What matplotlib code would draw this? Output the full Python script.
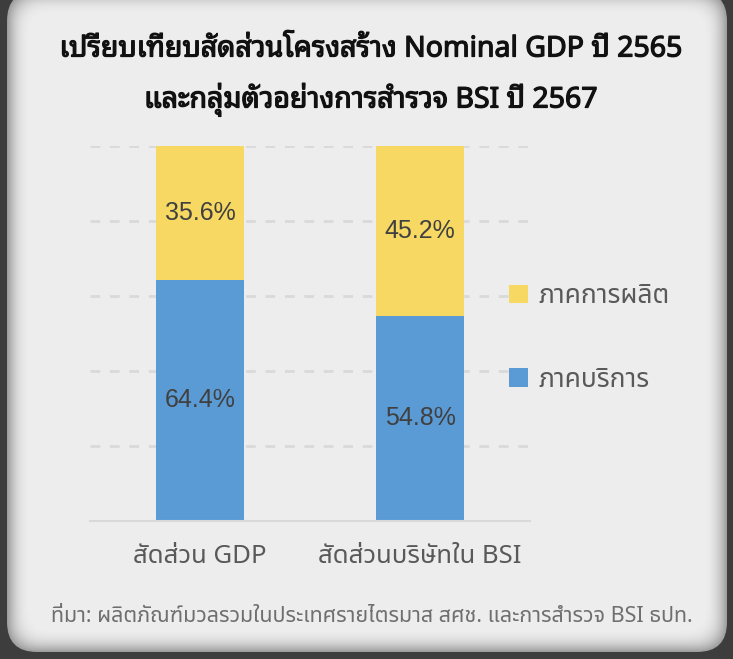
import matplotlib
matplotlib.use("Agg")
import matplotlib.pyplot as plt
from matplotlib.patches import FancyBboxPatch
import matplotlib.patheffects as pe
import numpy as np

# data
categories = ["สัดส่วน GDP", "สัดส่วนบริษัทใน BSI"]
services = [64.4, 54.8]       # ภาคบริการ
manufacturing = [35.6, 45.2]  # ภาคการผลิต
series_names = ["ภาคบริการ", "ภาคการผลิต"]
title_lines = ["เปรียบเทียบสัดส่วนโครงสร้าง Nominal GDP ปี 2565",
               "และกลุ่มตัวอย่างการสำรวจ BSI ปี 2567"]
source = "ที่มา: ผลิตภัณฑ์มวลรวมในประเทศรายไตรมาส สศช. และการสำรวจ BSI ธปท."

thai = ["Noto Sans Thai", "DejaVu Sans"]
thai_loop = ["Noto Sans Thai Looped", "Noto Sans Thai", "DejaVu Sans"]

W, H = 733, 659
fig = plt.figure(figsize=(W / 100, H / 100), dpi=100, facecolor="#3d3d3d")

# rounded card with a soft inner shade at the edges
x0, y0, x1, y1 = 7, 7, 727, 668
steps = 24
for i in range(steps):
    t = i / (steps - 1)
    g = 0.62 + (0.93 - 0.62) * (1 - (1 - t) ** 2.2)
    inset = i
    p = FancyBboxPatch((x0 + inset, y0 + inset), (x1 - x0) - 2 * inset,
                       (y1 - y0) - 2 * inset,
                       boxstyle="round,pad=0,rounding_size=%d" % max(30 - inset * 0.4, 8),
                       transform=None, facecolor=(g, g, g), edgecolor="none",
                       zorder=-10 + i * 0.01)
    fig.patches.append(p)

ax = fig.add_axes([90 / W, 1 - 521 / H, 440 / W, 375 / H])
ax.set_facecolor("none")

x = np.arange(len(categories))
b1 = ax.bar(x, services, 0.4, color="#5b9bd5", label=series_names[0], zorder=3)
b2 = ax.bar(x, manufacturing, 0.4, bottom=services, color="#f6d862",
            label=series_names[1], zorder=3)

for bars in (b1, b2):
    ax.bar_label(bars, labels=["%.1f%%" % b.get_height() for b in bars],
                 label_type="center", fontsize=18, color="#404040",
                 family="Liberation Sans")

ax.set_xlim(-0.5, 1.5)
ax.set_ylim(0, 100)
ax.set_yticks(np.arange(0, 101, 20))
ax.yaxis.grid(True, color="#d9d9d9", linestyle=(0, (3.5, 3.5)), linewidth=2, zorder=0)
ax.tick_params(axis="y", left=False, labelleft=False)
ax.tick_params(axis="x", bottom=False, pad=13)
ax.set_xticks(x)
ax.set_xticklabels(categories, fontsize=18.5, color="#595959", family=thai)
for s in ("top", "left", "right"):
    ax.spines[s].set_visible(False)
ax.spines["bottom"].set_color("#d9d9d9")
ax.spines["bottom"].set_linewidth(1.5)
ax.spines["bottom"].set_zorder(4)

h, l = ax.get_legend_handles_labels()
ax.legend(h[::-1], l[::-1], loc="center left", bbox_to_anchor=(0.953, 0.488),
          frameon=False, borderpad=0, borderaxespad=0, handlelength=0.7,
          handleheight=0.7, handletextpad=0.4, labelspacing=2.1,
          prop={"family": thai, "size": 19}, labelcolor="#595959")

# title font has no bold face here, so thicken it with a thin stroke
bold = [pe.withStroke(linewidth=0.9, foreground="#111111")]
fig.text(371 / W, 1 - 49 / H, title_lines[0], ha="center", va="center",
         fontsize=20.5, fontweight="bold", family=thai_loop, color="#111111",
         path_effects=bold)
fig.text(371 / W, 1 - 100 / H, title_lines[1], ha="center", va="center",
         fontsize=20.5, fontweight="bold", family=thai_loop, color="#111111",
         path_effects=bold)
fig.text(372 / W, 1 - 617 / H, source, ha="center", va="center",
         fontsize=15.5, family=thai, color="#6f6f6f")

fig.savefig("out.png", dpi=100, facecolor=fig.get_facecolor())
